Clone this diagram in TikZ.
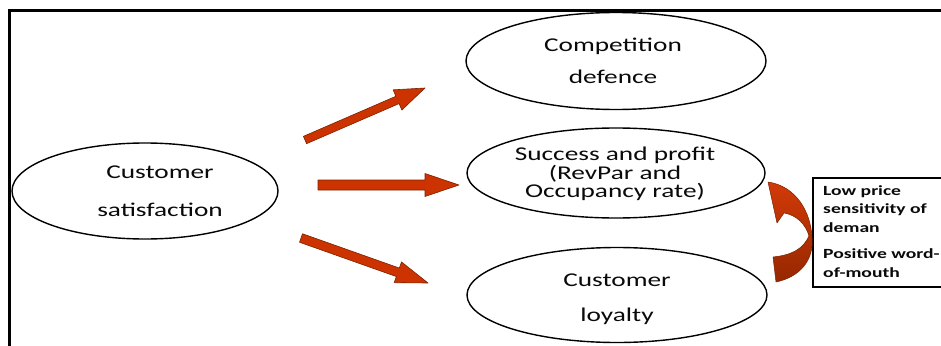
\documentclass[tikz,border=0pt]{standalone}
\usepackage{fontspec}
\setmainfont[FakeStretch=1.4]{Carlito}
\usetikzlibrary{calc,shapes.geometric}
\definecolor{arrowred}{HTML}{CC3300}
\definecolor{arrowedge}{HTML}{7A2200}
\definecolor{curvetop}{HTML}{D23A08}
\definecolor{curvebot}{HTML}{962800}
\definecolor{txtgray}{HTML}{0A0A0A}
\tikzset{
  ell/.style={ellipse, draw=black, line width=1.4pt, fill=white, inner sep=0pt},
  lbl/.style={align=center, text=txtgray, inner sep=0pt, font=\fontsize{19.5}{#1}\selectfont},
  lbl/.default=22,
  boxtxt/.style={align=left, text=txtgray, inner sep=0pt, font=\bfseries\fontsize{14}{18.5}\selectfont},
  blockarrow/.style={fill=arrowred, draw=arrowedge, line width=0.6pt, line join=round},
  curvearrow/.style={top color=curvetop, bottom color=curvebot, draw=arrowedge, line width=0.5pt, line join=round},
  frameline/.style={line width=3pt, line cap=rect},
  sidebox/.style={draw=black, line width=1.8pt, fill=white, inner sep=0pt}
}
% #1 from, #2 to, #3 shaft half width, #4 head half width, #5 head length
\newcommand\blockarr[5]{%
  \path[blockarrow] let \p1=(#1), \p2=(#2), \p3=($(#2)!#5!(#1)$) in
    ($(\p1)!#3!90:(\p2)$) -- ($(\p3)!#3!90:(\p2)$) -- ($(\p3)!#4!90:(\p2)$) --
    (\p2) -- ($(\p3)!#4!-90:(\p2)$) -- ($(\p3)!#3!-90:(\p2)$) --
    ($(\p1)!#3!-90:(\p2)$) -- cycle;%
}
\begin{document}
\begin{tikzpicture}[x=1pt,y=-1pt]
\useasboundingbox (0,0) rectangle (941,345);
\clip (0,0) rectangle (941,345);

% frame
\coordinate (fTL) at (9,11);
\coordinate (fTR) at (950,11);
\coordinate (fBL) at (9,355);
\draw[frameline] (fTR) -- (fTL) -- (fBL);

% ellipses
\node[ell, minimum width=266pt, minimum height=96pt] (cs) at (145,191) {};
\node[ell, minimum width=300pt, minimum height=97pt] (cd) at (616,61) {};
\node[ell, minimum width=298pt, minimum height=90pt] (sp) at (616,173) {};
\node[ell, minimum width=300pt, minimum height=95pt] (cl) at (617,295) {};

\node[lbl=38] (cst) at (160,191) {Customer\\satisfaction};
\node[lbl=32] (cdt) at (613,61) {Competition\\defence};
\node[lbl=18.5] (spt) at (615,174) {Success and profit\\(RevPar and\\Occupancy rate)};
\node[lbl=35] (clt) at (617,299) {Customer\\loyalty};

% straight block arrows
\coordinate (a1s) at (305,140);
\coordinate (a1e) at (425,88);
\coordinate (a2s) at (318,185);
\coordinate (a2e) at (459,185);
\coordinate (a3s) at (301,238);
\coordinate (a3e) at (428,283);
\blockarr{a1s}{a1e}{4pt}{11pt}{30pt}
\blockarr{a2s}{a2e}{5pt}{11.5pt}{34pt}
\blockarr{a3s}{a3e}{4.5pt}{11pt}{32pt}

% side box
\node[sidebox, anchor=north west, minimum width=150pt, minimum height=109pt] (box) at (812,177) {};
\node[boxtxt, anchor=base west] (boxt) at (823,277) {Low price\\sensitivity of\\deman\\[8pt]Positive word-\\of-mouth};

% curved arrow
\coordinate (ctip) at (768,182);
\coordinate (cwing) at (777,223);
\coordinate (cnotch) at (784,213);
\coordinate (cwaist) at (809,236);
\coordinate (ctailu) at (773,257);
\coordinate (ctaill) at (776,282);
\coordinate (cwaisto) at (812,238);
\path[curvearrow] (ctip) -- (cwing) -- (cnotch)
  .. controls (797,215) and (806,225) .. (cwaist)
  .. controls (803,249) and (792,255) .. (ctailu)
  -- (ctaill)
  .. controls (800,277) and (814,260) .. (cwaisto)
  .. controls (811,212) and (796,186) .. (ctip) -- cycle;
\end{tikzpicture}
\end{document}
